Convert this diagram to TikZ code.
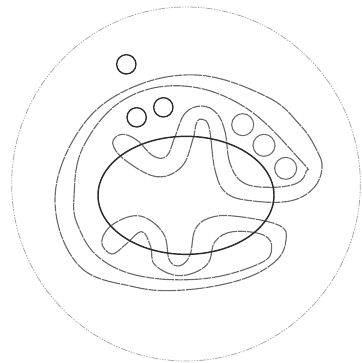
\documentclass[tikz,border=0pt]{standalone}
\definecolor{ink}{HTML}{2A2A2A}
\definecolor{sub}{HTML}{6A6A6A}
\definecolor{faint}{HTML}{A8A8A8}
\tikzset{
  cellwall/.style={draw=faint, line width=0.6pt, dash pattern=on 5pt off 1pt on 1pt off 1pt on 1pt off 1pt on 1pt off 1pt},
  contour/.style={draw=sub, line width=0.85pt, dash pattern=on 14pt off 0.7pt on 6pt off 0.7pt},
  core/.style={draw=ink, line width=1.1pt},
  spot/.style={draw=ink, line width=1pt},
  paleSpot/.style={draw=sub, line width=0.8pt},
}
\begin{document}
\begin{tikzpicture}[x=0.25pt, y=-0.25pt]
  \useasboundingbox (0,0) rectangle (1083,1089);
  % outer boundary
  \draw[cellwall] (558,552) ellipse [x radius=523, y radius=531];
  % folded band
  \draw[contour] plot[smooth cycle, tension=0.65] coordinates {
    (966,505) (950,450) (900,375) (800,290) (590,225) (380,270) (235,395) (165,600)
    (235,795) (400,860) (550,870) (720,840) (825,785) (858,720) (835,675)
    (700,648) (625,655) (585,690) (570,765) (540,797) (508,780) (490,700)
    (420,648) (340,672) (305,725) (335,762) (375,735) (425,695) (452,740)
    (465,795) (540,827) (620,795) (645,725) (700,695) (790,705) (815,745)
    (780,790) (620,835) (430,830) (300,775) (235,680) (222,590) (250,440)
    (370,300) (550,258) (740,325) (905,485) (918,515) (890,550) (810,562)
    (730,548) (690,490) (675,395) (650,340) (605,318) (555,340) (525,410)
    (500,468) (460,468) (410,420) (365,403) (338,430) (375,480) (470,530)
    (545,500) (578,420) (590,368) (608,358) (628,385) (645,510) (680,580)
    (760,603) (870,603) (940,565)};
  % central body
  \draw[core] (558,586) ellipse [x radius=264, y radius=177];
  % small circles
  \foreach \cx/\cy in {379/193, 410/352, 490/322}
    \draw[spot] (\cx,\cy) circle [radius=29];
  \foreach \cx/\cy in {728/374, 792/436, 857/505}
    \draw[paleSpot] (\cx,\cy) circle [radius=33];
\end{tikzpicture}
\end{document}
